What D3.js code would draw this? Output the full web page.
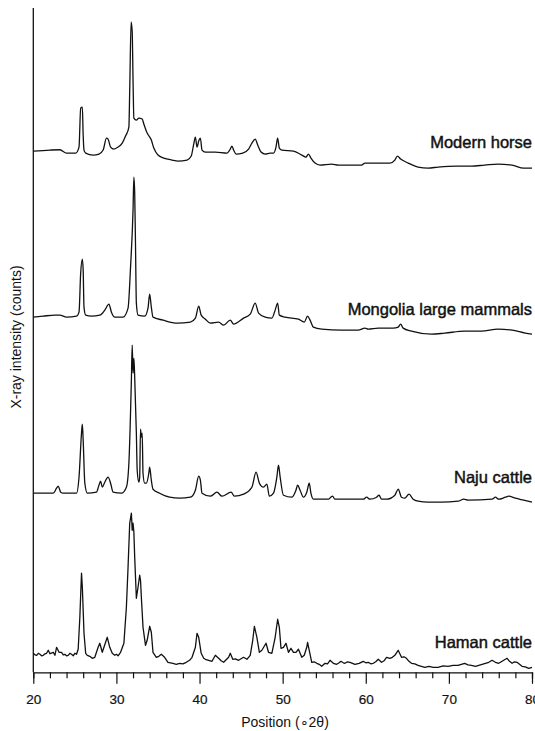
<!DOCTYPE html>
<html>
<head>
<meta charset="utf-8">
<script src="https://cdn.jsdelivr.net/npm/d3@7/dist/d3.min.js"></script>
<style>
  html, body { margin: 0; padding: 0; background: #fff; }
  svg { display: block; }
  text { font-family: "Liberation Sans", Arial, sans-serif; fill: #111; }
</style>
</head>
<body>
<svg id="chart" width="535" height="731"></svg>
<script>
// ---- data (2θ in degrees, intensity in counts above each trace's own baseline) ----
const seriesNames = ["Modern horse", "Mongolia large mammals", "Naju cattle", "Haman cattle"];
const seriesOffsets = [5040, 3370, 1690, 40]; // vertical stacking offsets (counts)

const modernHorse = [[20.0,170],[22.0,180],[23.2,183],[24.0,150],[25.1,150],[25.5,210],[25.7,600],[25.9,610],[26.0,330],[26.1,180],[26.3,150],[27.2,130],[27.9,140],[28.4,180],[28.8,300],[29.0,290],[29.3,210],[29.7,190],[30.2,210],[30.7,250],[31.1,320],[31.5,410],[31.6,780],[31.77,1460],[31.9,1360],[32.0,880],[32.1,500],[32.4,480],[32.7,500],[33.1,490],[33.3,440],[33.7,350],[34.2,280],[34.5,200],[35.0,130],[35.7,100],[36.7,80],[37.4,70],[38.5,80],[39.0,120],[39.3,240],[39.5,310],[39.7,210],[39.9,270],[40.1,300],[40.3,180],[40.7,160],[41.9,160],[43.3,150],[43.7,190],[43.9,220],[44.1,180],[44.4,140],[45.2,150],[45.9,190],[46.3,250],[46.7,290],[47.0,230],[47.4,160],[47.9,140],[48.5,150],[48.9,150],[49.2,210],[49.4,300],[49.6,200],[49.9,180],[51.3,170],[52.3,130],[52.8,110],[53.1,140],[53.4,100],[53.9,50],[54.5,30],[55.9,40],[56.7,30],[59.5,30],[59.9,50],[62.9,50],[63.5,80],[63.8,120],[64.2,90],[65.1,50],[66.3,10],[67.5,0],[68.7,10],[70.9,20],[72.7,20],[74.3,30],[75.9,40],[77.6,30],[79.0,0],[80.0,0]];

const mongolia = [[20.0,180],[21.2,190],[22.6,200],[23.2,200],[24.0,180],[25.2,190],[25.5,230],[25.7,620],[25.9,760],[26.0,650],[26.1,280],[26.3,200],[27.0,190],[28.0,200],[28.6,250],[29.1,310],[29.4,230],[29.8,180],[30.8,180],[31.4,270],[31.7,680],[32.0,1250],[32.1,1580],[32.2,1420],[32.3,880],[32.4,320],[32.6,200],[33.4,190],[33.8,270],[34.0,410],[34.2,280],[34.4,180],[35.6,150],[37.3,120],[38.9,130],[39.5,170],[39.9,290],[40.2,200],[40.7,160],[41.3,120],[42.3,130],[42.9,100],[43.7,150],[44.1,110],[45.3,170],[46.1,210],[46.7,320],[47.1,220],[47.9,180],[48.7,170],[49.1,250],[49.4,320],[49.6,200],[50.3,180],[51.9,160],[52.6,130],[53.0,190],[53.3,150],[53.7,80],[54.7,60],[57.1,50],[59.1,50],[59.9,70],[60.3,60],[61.5,70],[63.3,70],[63.9,80],[64.2,110],[64.5,70],[65.5,40],[67.9,10],[69.5,20],[71.9,40],[73.9,40],[75.9,60],[77.6,50],[79.2,20],[80.0,10]];

const najuCattle = [[20.0,100],[22.4,100],[22.8,150],[23.0,170],[23.3,110],[23.6,100],[25.2,100],[25.5,260],[25.8,700],[25.9,790],[26.0,630],[26.2,200],[26.5,100],[27.6,110],[27.9,180],[28.1,220],[28.3,160],[28.6,210],[29.0,260],[29.3,200],[29.6,110],[30.6,100],[31.2,160],[31.5,400],[31.8,1230],[31.9,1580],[32.0,1300],[32.1,1450],[32.2,1260],[32.4,700],[32.5,330],[32.7,210],[32.8,260],[32.9,740],[33.0,660],[33.1,700],[33.2,300],[33.4,200],[33.6,200],[33.9,300],[34.0,360],[34.2,230],[34.4,140],[35.2,100],[36.4,60],[37.6,50],[38.9,60],[39.5,130],[39.9,270],[40.1,230],[40.3,100],[41.3,70],[42.1,110],[42.7,70],[43.8,110],[44.2,70],[45.3,90],[46.3,160],[46.8,310],[47.2,200],[47.7,160],[48.1,190],[48.4,70],[48.9,100],[49.3,260],[49.5,380],[49.7,260],[50.1,80],[51.1,60],[51.6,130],[51.8,180],[52.1,130],[52.5,60],[52.9,110],[53.2,200],[53.4,100],[53.7,40],[55.5,40],[55.8,60],[56.0,70],[56.3,40],[59.7,40],[60.1,60],[60.5,40],[61.3,60],[61.6,80],[61.9,40],[62.5,40],[63.5,80],[63.9,140],[64.3,60],[64.7,50],[65.2,90],[65.7,40],[66.3,20],[67.5,10],[69.1,10],[71.1,20],[71.8,40],[72.3,30],[75.2,40],[75.6,60],[76.0,40],[76.8,60],[77.2,70],[78.0,50],[79.0,30],[80.0,10]];

const hamanCattle = [[20.0,150],[20.2,135],[20.4,130],[20.6,150],[20.8,140],[21.0,125],[21.2,130],[21.4,145],[21.6,150],[21.8,180],[22.0,145],[22.1,150],[22.4,160],[22.6,130],[22.8,210],[23.1,160],[23.4,160],[23.6,135],[23.8,140],[24.0,125],[24.2,130],[24.4,150],[24.6,140],[24.8,125],[25.0,150],[25.2,140],[25.4,190],[25.6,510],[25.8,950],[25.9,810],[26.1,350],[26.3,150],[26.5,130],[26.8,120],[27.1,100],[27.4,110],[27.8,210],[28.0,250],[28.3,160],[28.5,210],[28.9,310],[29.2,210],[29.5,150],[29.8,130],[30.0,140],[30.2,125],[30.5,160],[30.9,250],[31.2,610],[31.4,1010],[31.6,1450],[31.8,1550],[31.9,1380],[32.0,1450],[32.1,1360],[32.2,1110],[32.4,700],[32.6,810],[32.8,930],[32.9,880],[33.0,710],[33.2,410],[33.5,230],[33.7,280],[34.0,420],[34.2,360],[34.4,160],[34.8,110],[35.1,120],[35.4,140],[35.8,110],[36.2,60],[36.5,55],[36.8,50],[37.2,40],[37.6,50],[38.0,45],[38.4,60],[38.8,80],[39.1,110],[39.5,210],[39.7,350],[39.9,310],[40.2,150],[40.5,100],[40.7,90],[41.1,80],[41.5,70],[41.9,130],[42.3,100],[42.6,75],[42.9,60],[43.2,85],[43.5,110],[43.7,150],[44.0,90],[44.3,95],[44.7,80],[45.0,95],[45.3,110],[45.7,90],[46.1,130],[46.4,280],[46.6,420],[46.9,310],[47.2,160],[47.5,180],[48.0,250],[48.3,160],[48.7,150],[49.1,310],[49.4,490],[49.6,410],[49.8,200],[50.1,210],[50.4,250],[50.7,160],[51.0,200],[51.3,160],[51.6,160],[51.9,190],[52.3,110],[52.6,130],[52.9,210],[53.0,260],[53.2,180],[53.5,60],[53.8,65],[54.1,50],[54.4,40],[54.7,20],[55.1,50],[55.4,45],[55.7,80],[56.1,50],[56.5,40],[56.8,55],[57.0,70],[57.3,55],[57.5,50],[57.8,65],[58.1,60],[58.4,50],[58.7,40],[59.2,50],[59.7,70],[60.0,55],[60.3,60],[60.6,45],[60.9,50],[61.2,65],[61.5,90],[61.9,60],[62.2,75],[62.5,110],[62.9,100],[63.2,110],[63.5,130],[63.9,180],[64.3,110],[64.6,115],[64.9,100],[65.2,70],[65.5,50],[65.9,45],[66.3,30],[66.7,20],[67.1,10],[67.6,20],[68.1,10],[68.7,10],[69.3,25],[69.9,20],[70.5,30],[71.1,30],[71.5,40],[71.9,50],[72.3,35],[72.7,30],[73.2,20],[73.8,35],[74.4,50],[74.8,60],[75.2,80],[75.6,60],[76.0,50],[76.3,65],[76.6,80],[77.0,100],[77.3,70],[77.6,50],[77.9,65],[78.2,60],[78.5,40],[78.8,20],[79.2,15],[79.6,0],[80.0,10]];

const seriesData = [modernHorse, mongolia, najuCattle, hamanCattle];
const xTickValues = d3.range(20, 81, 2);
const xMajorTicks = [20, 30, 40, 50, 60, 70, 80];
const xTitle = "Position (\u22182\u03b8)";
const yTitle = "X-ray intensity (counts)";

// ---- layout ----
const svg = d3.select("#chart");
const mLeft = 33.3, mRight = 532, mTop = 8, mBottom = 672.3;
const x = d3.scaleLinear().domain([20, 80]).range([mLeft, mRight]);
const y = d3.scaleLinear().domain([0, 6640]).range([mBottom, mTop]);

// y axis: plain line, no ticks
svg.append("line")
  .attr("x1", mLeft).attr("x2", mLeft)
  .attr("y1", y(6640)).attr("y2", y(0))
  .attr("stroke", "#111").attr("stroke-width", 1.3);

// x axis
const xAxis = d3.axisBottom(x)
  .tickValues(xTickValues)
  .tickSizeOuter(0)
  .tickSize(6)
  .tickFormat(d => xMajorTicks.includes(d) ? d : "");
const gx = svg.append("g")
  .attr("transform", `translate(0,${mBottom})`)
  .call(xAxis);
gx.select(".domain").attr("stroke", "#111").attr("stroke-width", 1.3);
gx.selectAll(".tick line")
  .attr("stroke", "#111").attr("stroke-width", 1.2)
  .attr("y2", d => xMajorTicks.includes(d) ? 11.5 : 6);
gx.selectAll(".tick text")
  .attr("y", 22)
  .attr("dy", "0.71em")
  .style("font-family", '"Liberation Sans", Arial, sans-serif')
  .style("font-size", "13.5px")
  .attr("fill", "#111")
  .attr("stroke", "#111")
  .attr("stroke-width", 0.2);

// titles
svg.append("text")
  .attr("x", 285).attr("y", 726.5)
  .attr("text-anchor", "middle")
  .style("font-size", "14px")
  .text(xTitle);

svg.append("text")
  .attr("transform", "translate(21,337) rotate(-90)")
  .attr("text-anchor", "middle")
  .style("font-size", "14px")
  .text(yTitle);

// traces
seriesData.forEach((data, i) => {
  const off = seriesOffsets[i];
  const line = d3.line()
    .x(d => x(d[0]))
    .y(d => y(d[1] + off))
    .curve(i === 3 ? d3.curveLinear : d3.curveMonotoneX);
  svg.append("path")
    .datum(data)
    .attr("d", line)
    .attr("fill", "none")
    .attr("stroke", "#111")
    .attr("stroke-width", 1.3)
    .attr("stroke-linejoin", "round");

  svg.append("text")
    .attr("x", x(80))
    .attr("y", y(off + 205))
    .attr("text-anchor", "end")
    .style("font-size", "16.5px")
    .attr("stroke", "#111")
    .attr("stroke-width", 0.45)
    .text(seriesNames[i]);
});
</script>
</body>
</html>
